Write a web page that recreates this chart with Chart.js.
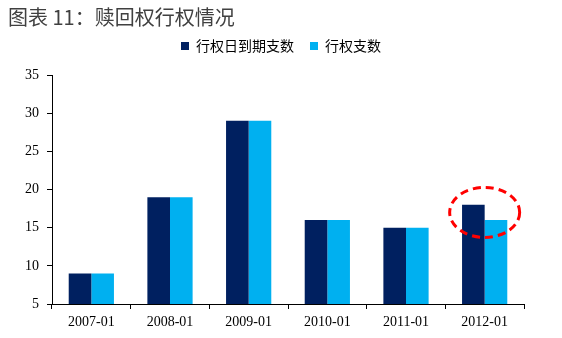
<!DOCTYPE html>
<html>
<head>
<meta charset="utf-8">
<script src="https://cdn.jsdelivr.net/npm/chart.js@4"></script>
<style>
  html, body { margin: 0; padding: 0; background: #fff; }
  #wrap { width: 562px; height: 338px; }
</style>
</head>
<body>
<div id="wrap"><canvas id="exerciseChart"></canvas></div>
<script>
// 赎回权行权数据
const months = ["2007-01", "2008-01", "2009-01", "2010-01", "2011-01", "2012-01"];
const dueCounts = [9, 19, 29, 16, 15, 18];
const exercisedCounts = [9, 19, 29, 16, 15, 16];
const yTicks = [5, 10, 15, 20, 25, 30, 35];

// red dashed ring around the last category
const highlightRing = {
  id: "highlightRing",
  afterDatasetsDraw(chart) {
    const ctx = chart.ctx;
    const x = chart.scales.x.getPixelForValue(5);
    const y = chart.scales.y.getPixelForValue(17);
    ctx.save();
    ctx.strokeStyle = "#FF0000";
    ctx.lineWidth = 3;
    ctx.setLineDash([8, 5]);
    ctx.beginPath();
    ctx.ellipse(x, y, 35, 25, 0, 0, Math.PI * 2);
    ctx.stroke();
    ctx.restore();
  },
};

// extra room under the legend, and centre it on the whole canvas
const legendGap = {
  id: "legendGap",
  beforeInit(chart) {
    const legend = chart.legend;
    if (!legend) return;
    const fit = legend.fit;
    legend.fit = function () {
      fit.call(this);
      this.height += 12;
    };
  },
  afterLayout(chart) {
    const legend = chart.legend;
    if (!legend) return;
    legend.left += 15;
    legend.right += 15;
  },
};

const ctx = document.getElementById("exerciseChart").getContext("2d");
new Chart(ctx, {
  type: "bar",
  data: {
    labels: months,
    datasets: [
      {
        label: "行权日到期支数",
        data: dueCounts,
        backgroundColor: "#002060",
        borderWidth: 0,
      },
      {
        label: "行权支数",
        data: exercisedCounts,
        backgroundColor: "#00B0F0",
        borderWidth: 0,
      },
    ],
  },
  options: {
    responsive: true,
    maintainAspectRatio: false,
    animation: false,
    categoryPercentage: 0.575,
    barPercentage: 1.0,
    layout: {
      padding: { left: 8, right: 38, top: 0, bottom: 0 },
    },
    scales: {
      x: {
        afterFit(axis) {
          axis.height = 34;
        },
        grid: {
          drawOnChartArea: false,
          drawTicks: true,
          tickLength: 5,
          color: "#000",
        },
        border: { color: "#000", width: 1 },
        ticks: {
          color: "#000",
          font: { family: "Liberation Serif", size: 14 },
          padding: 5,
        },
      },
      y: {
        min: 5,
        max: 35,
        afterBuildTicks(axis) {
          axis.ticks = yTicks.map((v) => ({ value: v }));
        },
        afterFit(axis) {
          axis.width = 44;
        },
        grid: {
          drawOnChartArea: false,
          drawTicks: true,
          tickLength: 5,
          color: "#000",
        },
        border: { color: "#000", width: 1 },
        ticks: {
          color: "#000",
          font: { family: "Liberation Serif", size: 14 },
          padding: 8,
        },
      },
    },
    plugins: {
      title: {
        display: true,
        text: "图表 11：赎回权行权情况",
        align: "start",
        color: "#404040",
        font: { family: "Noto Sans CJK SC", size: 20, weight: "normal" },
        padding: { top: 5, bottom: -6 },
      },
      legend: {
        display: true,
        position: "top",
        labels: {
          boxWidth: 8,
          boxHeight: 8,
          color: "#000",
          font: { family: "Noto Sans CJK SC", size: 14 },
          padding: 16,
        },
      },
      tooltip: { enabled: false },
    },
  },
  plugins: [highlightRing, legendGap],
});
</script>
</body>
</html>
